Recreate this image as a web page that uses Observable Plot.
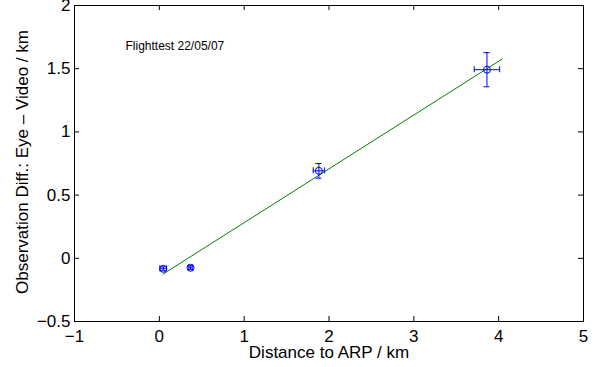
<!DOCTYPE html>
<html>
<head>
<meta charset="utf-8">
<script src="https://cdn.jsdelivr.net/npm/d3@7"></script>
<script src="https://cdn.jsdelivr.net/npm/@observablehq/plot@0.6"></script>
<style>
  html, body { margin: 0; padding: 0; background: #fff; }
</style>
</head>
<body>
<div id="chart"></div>
<script>
// Data
const xTicks = [-1, 0, 1, 2, 3, 4, 5];
const yTicks = [-0.5, 0, 0.5, 1, 1.5, 2];
const distance = [0.046, 0.368, 1.881, 3.862];      // km
const obsDiff = [-0.083, -0.075, 0.692, 1.492];     // km
const distErr = [0.04, 0.02, 0.067, 0.15];
const diffErr = [0.015, 0.015, 0.058, 0.135];
const fitX = [0.044, 4.044];
const fitY = [-0.125, 1.578];
const annotation = "Flighttest 22/05/07";
const xLabel = "Distance to ARP / km";
const yLabel = "Observation Diff.: Eye \u2013 Video / km";

const points = distance.map((d, i) => ({x: d, y: obsDiff[i], ex: distErr[i], ey: diffErr[i]}));
const fit = fitX.map((d, i) => ({x: d, y: fitY[i]}));

const W = 600, H = 367;
const mL = 74, mR = 17, mT = 5, mB = 46;
const fw = W - mL - mR, fh = H - mT - mB;
const tick = 5, cap = 3;
const blue = "#0000ff", green = "#008000";
const fmt = d => String(d).replace("-", "\u2212");

const chart = Plot.plot({
  width: W,
  height: H,
  marginLeft: mL,
  marginRight: mR,
  marginTop: mT,
  marginBottom: mB,
  style: {fontFamily: "'Liberation Sans', Arial, sans-serif", fontSize: "17px", background: "#fff", color: "#000", overflow: "visible"},
  x: {domain: [-1, 5], axis: null},
  y: {domain: [-0.5, 2], axis: null},
  marks: [
    // fitted line
    Plot.line(fit, {x: "x", y: "y", stroke: green, strokeWidth: 1}),
    // vertical error bars
    Plot.ruleX(points, {x: "x", y1: d => d.y - d.ey, y2: d => d.y + d.ey, stroke: blue, strokeWidth: 1}),
    Plot.ruleY(points, {y: d => d.y - d.ey, x1: "x", x2: "x", insetLeft: -cap, insetRight: -cap, stroke: blue}),
    Plot.ruleY(points, {y: d => d.y + d.ey, x1: "x", x2: "x", insetLeft: -cap, insetRight: -cap, stroke: blue}),
    // horizontal error bars
    Plot.ruleY(points, {y: "y", x1: d => d.x - d.ex, x2: d => d.x + d.ex, stroke: blue, strokeWidth: 1}),
    Plot.ruleX(points, {x: d => d.x - d.ex, y1: "y", y2: "y", insetTop: -cap, insetBottom: -cap, stroke: blue}),
    Plot.ruleX(points, {x: d => d.x + d.ex, y1: "y", y2: "y", insetTop: -cap, insetBottom: -cap, stroke: blue}),
    // markers
    Plot.dot(points, {x: "x", y: "y", r: 3.5, stroke: blue, fill: "none", strokeWidth: 1}),
    // inward ticks on all four sides
    Plot.ruleX(xTicks, {x: d => d, insetTop: fh - tick, stroke: "#000"}),
    Plot.ruleX(xTicks, {x: d => d, insetBottom: fh - tick, stroke: "#000"}),
    Plot.ruleY(yTicks, {y: d => d, insetRight: fw - tick, stroke: "#000"}),
    Plot.ruleY(yTicks, {y: d => d, insetLeft: fw - tick, stroke: "#000"}),
    Plot.frame({stroke: "#000", strokeWidth: 1}),
    // tick labels
    Plot.axisX(xTicks, {tickSize: 0, tickPadding: 8, label: null, tickFormat: fmt, fontSize: 17, fill: "#000"}),
    Plot.axisY(yTicks, {tickSize: 0, tickPadding: 4, label: null, tickFormat: fmt, fontSize: 17, fill: "#000"}),
    // axis titles
    Plot.text([xLabel], {text: d => d, frameAnchor: "bottom", textAnchor: "middle", lineAnchor: "middle", dy: 31, fontSize: 17, fill: "#000"}),
    Plot.text([yLabel], {text: d => d, frameAnchor: "left", textAnchor: "middle", lineAnchor: "middle", dx: -51.5, dy: -1.5, rotate: -90, fontSize: 17, fill: "#000"}),
    // annotation
    Plot.text([annotation], {text: d => d, frameAnchor: "top-left", textAnchor: "start", lineAnchor: "middle", dx: 51, dy: 41, fontSize: 12, fill: "#000"})
  ]
});
document.getElementById("chart").appendChild(chart);
</script>
</body>
</html>
